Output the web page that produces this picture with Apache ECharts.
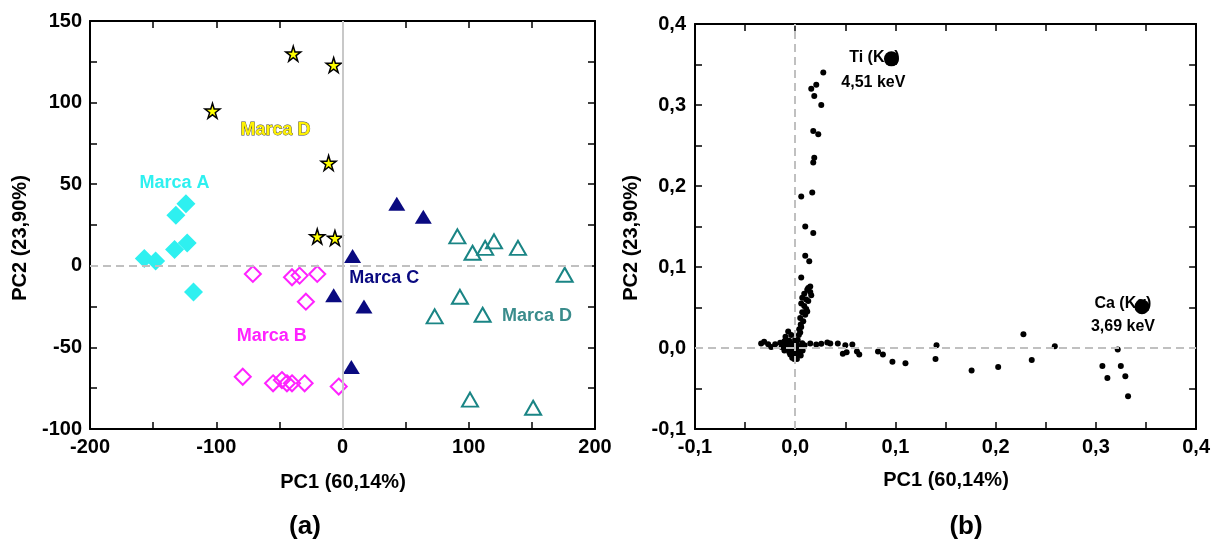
<!DOCTYPE html>
<html><head><meta charset="utf-8">
<script src="https://cdn.jsdelivr.net/npm/echarts@6/dist/echarts.min.js"></script>
<style>html,body{margin:0;padding:0;background:#fff}#c{width:1213px;height:542px}</style>
</head><body><div id="c"></div>
<script>
// ---- (a) score plot data ----
const marcaA = [[-124,38],[-132,31],[-123,14],[-133,10],[-157,4.5],[-148,3],[-118,-16]];
const marcaB = [[-71,-5],[-40,-7],[-34,-6],[-20,-5],[-29,-22],[-79,-68],[-55,-72],[-48,-70],[-44,-72],[-40,-72],[-30,-72],[-3,-74]];
const marcaC = [[43,38],[64,30],[8,6],[-7,-18],[17,-25],[7,-62]];
const marcaDStars = [[-39,130],[-7,123],[-103,95],[-11,63],[-20,18],[-6,17]];
const marcaDTri = [[91,18],[103,8],[113,11],[120,15],[139,11],[176,-5.5],[93,-19],[73,-31],[111,-30],[101,-82],[151,-87]];
const scoreLabels = ['Marca A','Marca B','Marca C','Marca D','Marca D'];
const scoreLabelAt = [[-133,51],[-56,-43],[33,-7.5],[-53,83],[154,-31]];
const xTicksA = [-200,-100,0,100,200];
const yTicksA = [-100,-50,0,50,100,150];

// ---- (b) loading plot data ----
const loadings = [
 [0.028,0.340],[0.016,0.320],[0.021,0.325],[0.019,0.311],[0.026,0.300],[0.018,0.268],[0.023,0.264],
 [0.019,0.235],[0.018,0.229],[0.017,0.192],[0.006,0.187],[0.010,0.150],[0.018,0.142],[0.010,0.114],
 [0.014,0.107],[0.006,0.087],[0.015,0.076],[0.012,0.072],[0.009,0.067],[0.015,0.069],[0.007,0.062],
 [0.006,0.055],[0.011,0.048],[0.007,0.044],[0.005,0.037],[0.0055,0.029],[0.004,0.023],[0.0036,0.016],[0.0025,0.010],
 [0.013,0.074],[0.016,0.065],[0.011,0.060],[0.013,0.058],[0.009,0.052],[0.012,0.045],[0.010,0.041],[0.008,0.033],[0.006,0.026],[0.005,0.019],
 [-0.034,0.0055],[-0.031,0.0077],[-0.027,0.0047],[-0.024,0.0013],[-0.020,0.0047],[-0.015,0.0064],[-0.012,0.0034],
 [-0.0097,0.0098],[-0.007,0.0205],[-0.0097,0.014],[-0.004,0.016],[-0.004,0.0055],[-0.0078,-0.0009],[-0.0059,-0.0051],
 [-0.0021,-0.0094],[0.0017,-0.0136],[-0.001,-0.0136],[0.0055,-0.0094],[0.0074,-0.003],[0.0093,0.0034],[0.0044,0.0013],
 [-0.0021,0.0013],[-0.0047,-0.003],[-0.0108,-0.003],[-0.0135,0.0013],[0.0036,-0.005],[-0.0002,0.0098],
 [-0.008,0.005],[-0.006,0.009],[-0.003,0.004],[0.001,0.006],[0.003,-0.002],[-0.002,-0.006],[0.001,-0.010],[-0.009,0.002],
 [-0.005,-0.008],[0.005,-0.006],[0.002,0.003],[-0.006,0.001],[0.007,0.006],[-0.011,0.008],[0.000,-0.004],[-0.003,-0.012],
 [0.015,0.0055],[0.021,0.0043],[0.026,0.0051],[0.032,0.0068],[0.035,0.0055],[0.0425,0.0055],[0.0475,-0.0072],
 [0.050,0.0034],[0.0513,-0.0051],[0.057,0.0043],[0.0616,-0.0043],[0.0639,-0.0081],[0.0826,-0.0043],[0.0875,-0.0081],
 [0.097,-0.017],[0.110,-0.0187],[0.141,0.0034],[0.140,-0.0136],[0.176,-0.0277],[0.2025,-0.0234],[0.2277,0.017],
 [0.236,-0.0149],[0.259,0.0021],[0.3065,-0.0222],[0.3115,-0.037],[0.3218,-0.0017],[0.3249,-0.0222],[0.3294,-0.0349],[0.3321,-0.0596]
];
const peaks = [[0.096,0.357],[0.346,0.051]];
const peakLabels = ['Ti (Kα)','4,51 keV','Ca (Kα)','3,69 keV'];
const peakLabelAt = [[0.079,0.358],[0.078,0.328],[0.327,0.055],[0.327,0.027]];

const FONT = '"Liberation Sans", Arial, sans-serif';
const chart = echarts.init(document.getElementById('c'), null, {renderer:'canvas'});

function axisBase(extra){
  return Object.assign({
    type:'value', splitLine:{show:false},
    axisLine:{show:true, onZero:false, lineStyle:{color:'#000', width:2}},
    axisTick:{show:true, inside:true, length:7, lineStyle:{color:'#000', width:1.5}},
    axisLabel:{show:false}
  }, extra);
}
const lblStyle = {fontSize:20, fontWeight:'bold', color:'#000', fontFamily:FONT, showMinLabel:true, showMaxLabel:true};
function fmtA(list){ return v => list.indexOf(Math.round(v))>=0 ? String(Math.round(v)) : ''; }
function fmtB(v){ const r = Math.round(v*100); return (r%10===0) ? (r/100).toFixed(1).replace('.',',') : ''; }

const starPath = 'path://M50,0 L61,35 L98,35 L68,57 L79,91 L50,70 L21,91 L32,57 L2,35 L39,35 Z';
const labelColors = ['#2EF0F0','#FF22FF','#0A0A80','#FFF200','#3A8C8C'];

function textSeries(xi, yi, texts, at, styler){
  return {type:'scatter', xAxisIndex:xi, yAxisIndex:yi, symbol:'circle', symbolSize:1, silent:true, z:4,
    itemStyle:{color:'rgba(0,0,0,0)', opacity:1},
    data: texts.map((t,i)=>({value:at[i], label:Object.assign({show:true, position:'inside', formatter:t, fontWeight:'bold', fontFamily:FONT}, styler(i))}))};
}

option = {
  animation:false,
  grid:[{left:90, top:21, width:505, height:408}, {left:695, top:24, width:502, height:405}],
  xAxis:[
    axisBase({gridIndex:0, position:'bottom', min:-200, max:200, interval:50,
      axisLabel:Object.assign({show:true, margin:8, formatter:fmtA(xTicksA)}, lblStyle)}),
    axisBase({gridIndex:0, position:'top', min:-200, max:200, interval:50}),
    axisBase({gridIndex:1, position:'bottom', min:-0.1, max:0.4, interval:0.05,
      axisLabel:Object.assign({show:true, margin:8, formatter:fmtB}, lblStyle)}),
    axisBase({gridIndex:1, position:'top', min:-0.1, max:0.4, interval:0.05})
  ],
  yAxis:[
    axisBase({gridIndex:0, position:'left', min:-100, max:150, interval:25,
      axisLabel:Object.assign({show:true, margin:8, formatter:fmtA(yTicksA)}, lblStyle)}),
    axisBase({gridIndex:0, position:'right', min:-100, max:150, interval:25}),
    axisBase({gridIndex:1, position:'left', min:-0.1, max:0.4, interval:0.05,
      axisLabel:Object.assign({show:true, margin:9, formatter:fmtB}, lblStyle)}),
    axisBase({gridIndex:1, position:'right', min:-0.1, max:0.4, interval:0.05})
  ],
  series:[
    {type:'scatter', xAxisIndex:0, yAxisIndex:0, data:[], silent:true, z:1,
      markLine:{silent:true, symbol:'none', label:{show:false}, data:[
        {yAxis:0, lineStyle:{color:'#c0c0c0', width:2, type:[8,5]}},
        {xAxis:0, lineStyle:{color:'#c8c8c8', width:2, type:'solid'}}
      ]}},
    {type:'scatter', xAxisIndex:0, yAxisIndex:0, data:marcaA, symbol:'diamond', symbolSize:19,
      itemStyle:{color:'#2EF0F0', opacity:1}, z:3},
    {type:'scatter', xAxisIndex:0, yAxisIndex:0, data:marcaB, symbol:'diamond', symbolSize:16,
      itemStyle:{color:'rgba(0,0,0,0)', borderColor:'#FF22FF', borderWidth:2, opacity:1}, z:3},
    {type:'scatter', xAxisIndex:0, yAxisIndex:0, data:marcaC, symbol:'triangle', symbolSize:[17,14],
      itemStyle:{color:'#0A0A80', opacity:1}, z:3},
    {type:'scatter', xAxisIndex:0, yAxisIndex:0, data:marcaDStars, symbol:starPath, symbolSize:15,
      itemStyle:{color:'#FFFF00', borderColor:'#000', borderWidth:1.5, opacity:1}, z:3},
    {type:'scatter', xAxisIndex:0, yAxisIndex:0, data:marcaDTri, symbol:'triangle', symbolSize:[16,14],
      itemStyle:{color:'rgba(0,0,0,0)', borderColor:'#1A8585', borderWidth:2, opacity:1}, z:3},
    textSeries(0, 0, scoreLabels, scoreLabelAt, i => {
      const l = {fontSize:18, color:labelColors[i]};
      if(i===3){ l.textShadowColor='#111'; l.textShadowOffsetX=1.5; l.textShadowOffsetY=1.5; l.textShadowBlur=0; l.textBorderColor='#444'; l.textBorderWidth=0.8; }
      return l;
    }),
    // (b)
    {type:'scatter', xAxisIndex:2, yAxisIndex:2, data:loadings, symbol:'circle', symbolSize:6,
      itemStyle:{color:'#000', opacity:1}, z:3},
    textSeries(2, 2, peakLabels, peakLabelAt, i => ({fontSize:16, color:'#000'})),
    {type:'scatter', xAxisIndex:2, yAxisIndex:2, data:peaks, symbol:'circle', symbolSize:15,
      itemStyle:{color:'#000', opacity:1}, z:5},
    {type:'scatter', xAxisIndex:2, yAxisIndex:2, data:[], silent:true, z:6,
      markLine:{silent:true, symbol:'none', label:{show:false}, z:6, data:[
        {yAxis:0, lineStyle:{color:'#c0c0c0', width:2, type:[8,5]}},
        {xAxis:0, lineStyle:{color:'#c0c0c0', width:2, type:[8,5]}}
      ]}}
  ],
  graphic:[
    {type:'text', x:343, y:482, style:{text:'PC1 (60,14%)', font:'bold 20px '+FONT, fill:'#000', align:'center', verticalAlign:'middle'}},
    {type:'text', x:20, y:238, rotation:Math.PI/2, style:{text:'PC2 (23,90%)', font:'bold 20px '+FONT, fill:'#000', align:'center', verticalAlign:'middle'}},
    {type:'text', x:946, y:480, style:{text:'PC1 (60,14%)', font:'bold 20px '+FONT, fill:'#000', align:'center', verticalAlign:'middle'}},
    {type:'text', x:631, y:238, rotation:Math.PI/2, style:{text:'PC2 (23,90%)', font:'bold 20px '+FONT, fill:'#000', align:'center', verticalAlign:'middle'}},
    {type:'text', x:305, y:527, style:{text:'(a)', font:'bold 26px '+FONT, fill:'#000', align:'center', verticalAlign:'middle'}},
    {type:'text', x:966, y:527, style:{text:'(b)', font:'bold 26px '+FONT, fill:'#000', align:'center', verticalAlign:'middle'}}
  ]
};
chart.setOption(option);
</script></body></html>
